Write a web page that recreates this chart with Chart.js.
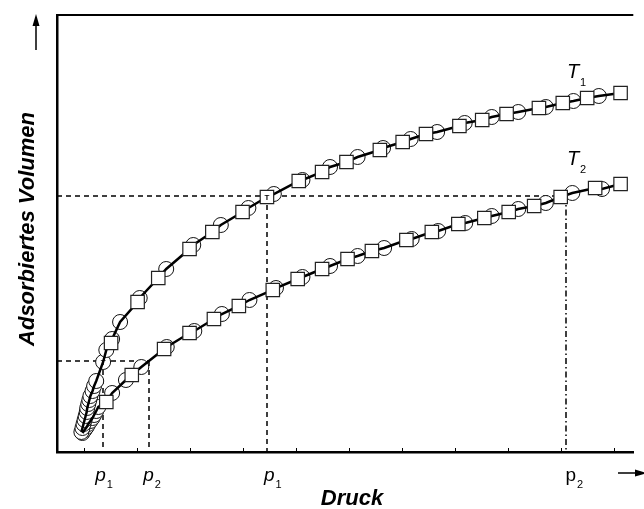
<!DOCTYPE html>
<html lang="de">
<head>
<meta charset="UTF-8">
<title>Adsorptionsisothermen</title>
<style>
  html, body { margin: 0; padding: 0; background: #fff; }
  #wrap { width: 644px; height: 509px; }
</style>
</head>
<body>
<div id="wrap"><canvas id="chart" width="644" height="509"></canvas></div>
<script src="https://cdn.jsdelivr.net/npm/chart.js"></script>
<script>
// Isotherme T1 (obere Kurve)
const t1CircleP = [0.96, 0.98, 1.00, 1.02, 1.04, 1.06, 1.07, 1.09, 1.11, 1.13, 1.17, 1.20, 1.24, 1.37, 1.43, 1.54, 1.69, 2.06, 2.56, 3.07, 3.59, 4.11, 4.59, 5.13, 5.65, 6.17, 6.65, 7.17, 7.67, 8.19, 8.70, 9.20, 9.72, 10.24, 10.72];
const t1CircleV = [2.0, 2.4, 2.8, 3.2, 3.6, 4.0, 4.4, 4.8, 5.2, 5.6, 6.1, 6.6, 7.1, 9.0, 10.2, 11.3, 13.0, 15.4, 18.3, 20.7, 22.7, 24.4, 25.8, 27.2, 28.5, 29.5, 30.4, 31.3, 32.0, 32.9, 33.5, 34.0, 34.5, 35.1, 35.6];
const t1SquareP = [1.52, 2.02, 2.41, 3.00, 3.43, 4.00, 4.46, 5.06, 5.50, 5.96, 6.59, 7.02, 7.46, 8.09, 8.52, 8.98, 9.59, 10.04, 10.50, 11.13];
const t1SquareV = [10.9, 15.0, 17.4, 20.3, 22.0, 24.0, 25.5, 27.1, 28.0, 29.0, 30.2, 31.0, 31.8, 32.6, 33.2, 33.8, 34.4, 34.9, 35.4, 35.9];

// Isotherme T2 (untere Kurve)
const t2CircleP = [0.98, 1.02, 1.06, 1.09, 1.13, 1.17, 1.20, 1.24, 1.28, 1.54, 1.80, 2.09, 2.57, 3.09, 3.61, 4.13, 4.63, 5.13, 5.65, 6.17, 6.67, 7.19, 7.69, 8.20, 8.70, 9.20, 9.72, 10.22, 10.78];
const t2CircleV = [1.9, 2.2, 2.5, 2.8, 3.1, 3.4, 3.7, 4.1, 4.5, 5.9, 7.2, 8.5, 10.5, 12.1, 13.8, 15.2, 16.4, 17.5, 18.6, 19.6, 20.4, 21.3, 22.1, 22.9, 23.6, 24.3, 24.9, 25.9, 26.3];
const t2SquareP = [1.43, 1.91, 2.52, 3.00, 3.46, 3.93, 4.57, 5.04, 5.50, 5.98, 6.44, 7.09, 7.57, 8.07, 8.56, 9.02, 9.50, 10.00, 10.65, 11.13];
const t2SquareV = [5.0, 7.7, 10.3, 11.9, 13.3, 14.6, 16.2, 17.3, 18.3, 19.3, 20.1, 21.2, 22.0, 22.8, 23.4, 24.0, 24.6, 25.5, 26.4, 26.8];

// Achse und Markierungen
const pressureTicks = [1, 2, 3, 4, 5, 6, 7, 8, 9, 10, 11];
const markLabels = ['p', 'p', 'p', 'p'];
const markSubs = ['1', '2', '1', '2'];
const markPressures = [1.37, 2.24, 4.46, 10.11];
const markVolumes = [9.1, 25.6];
const tMarkP = [1.37, 4.46];
const tMarkV = [9.0, 25.5];

const FONT = '"Liberation Sans", Arial, sans-serif';

function pts(xs, ys) {
    return xs.map((x, i) => ({ x: x, y: ys[i] }));
}
function linePts(cx, cy, sx, sy) {
    return pts(cx, cy).concat(pts(sx, sy)).sort((a, b) => a.x - b.x);
}

const decor = {
    id: 'decor',
    beforeDatasetsDraw(chart) {
        const { ctx, chartArea: a, scales: { x, y } } = chart;
        const lowV = Math.round(y.getPixelForValue(markVolumes[0]));
        const highV = Math.round(y.getPixelForValue(markVolumes[1]));
        const px = markPressures.map(v => Math.round(x.getPixelForValue(v)));
        ctx.save();
        ctx.strokeStyle = '#000';
        ctx.lineWidth = 1.5;
        ctx.setLineDash([5, 4]);
        ctx.beginPath();
        ctx.moveTo(a.left, lowV); ctx.lineTo(px[1], lowV);
        ctx.moveTo(a.left, highV); ctx.lineTo(px[3], highV);
        ctx.moveTo(px[0], lowV); ctx.lineTo(px[0], a.bottom);
        ctx.moveTo(px[1], lowV); ctx.lineTo(px[1], a.bottom);
        ctx.moveTo(px[2], highV); ctx.lineTo(px[2], a.bottom);
        ctx.stroke();
        ctx.setLineDash([6, 3, 1.5, 3]);
        ctx.beginPath();
        ctx.moveTo(px[3], highV); ctx.lineTo(px[3], a.bottom);
        ctx.stroke();
        ctx.restore();
    },
    afterDraw(chart) {
        const { ctx, chartArea: a, scales: { x, y } } = chart;
        ctx.save();
        ctx.strokeStyle = '#000';
        ctx.fillStyle = '#000';

        // oberer Rahmen
        ctx.lineWidth = 2;
        ctx.beginPath();
        ctx.moveTo(a.left, a.top);
        ctx.lineTo(a.right, a.top);
        ctx.stroke();

        // kleine Teilstriche nach innen
        ctx.lineWidth = 1;
        ctx.beginPath();
        x.ticks.forEach(t => {
            const tx = Math.round(x.getPixelForValue(t.value)) + 0.5;
            ctx.moveTo(tx, a.bottom);
            ctx.lineTo(tx, a.bottom - 4);
        });
        ctx.stroke();

        // Pfeile
        ctx.lineWidth = 1.5;
        ctx.beginPath();
        ctx.moveTo(36, 50); ctx.lineTo(36, 24);
        ctx.moveTo(618, 473); ctx.lineTo(636, 473);
        ctx.stroke();
        ctx.beginPath();
        ctx.moveTo(36, 14); ctx.lineTo(32.5, 26); ctx.lineTo(39.5, 26); ctx.closePath();
        ctx.fill();
        ctx.beginPath();
        ctx.moveTo(647, 473); ctx.lineTo(635, 469.5); ctx.lineTo(635, 476.5); ctx.closePath();
        ctx.fill();

        // Achsentitel
        ctx.font = 'italic bold 22px ' + FONT;
        ctx.textAlign = 'center';
        ctx.textBaseline = 'alphabetic';
        ctx.fillText('Druck', 352, 505);
        ctx.save();
        ctx.translate(34, 229);
        ctx.rotate(-Math.PI / 2);
        ctx.fillText('Adsorbiertes Volumen', 0, 0);
        ctx.restore();

        // p-Beschriftungen
        const dx = [-8, -6, -3, -1];
        ctx.textAlign = 'left';
        markPressures.forEach((v, i) => {
            const lx = x.getPixelForValue(v) + dx[i];
            ctx.font = (i === 3 ? '' : 'italic ') + '19px ' + FONT;
            ctx.fillText(markLabels[i], lx, 481);
            const w = ctx.measureText(markLabels[i]).width;
            ctx.font = '11px ' + FONT;
            ctx.fillText(markSubs[i], lx + w + 1, 488);
        });

        // Kurvenbeschriftungen
        ctx.font = 'italic 20px ' + FONT;
        ctx.fillText('T', 567, 78);
        ctx.fillText('T', 567, 165);
        ctx.font = '11px ' + FONT;
        ctx.fillText('1', 580, 86);
        ctx.fillText('2', 580, 173);

        // T im Kreis / im Quadrat
        ctx.font = 'bold 8px ' + FONT;
        ctx.textAlign = 'center';
        ctx.textBaseline = 'middle';
        tMarkP.forEach((v, i) => {
            ctx.fillText('T', x.getPixelForValue(v), y.getPixelForValue(tMarkV[i]) + 0.5);
        });
        ctx.restore();
    }
};

const circleStyle = {
    type: 'scatter',
    pointStyle: 'circle',
    pointRadius: 7.5,
    pointBackgroundColor: '#fff',
    pointBorderColor: '#111',
    pointBorderWidth: 1,
    showLine: false,
    order: 2
};
const squareStyle = {
    type: 'scatter',
    pointStyle: 'rect',
    pointRadius: 9.5,
    pointBackgroundColor: '#fff',
    pointBorderColor: '#222',
    pointBorderWidth: 1.2,
    showLine: false,
    order: 0
};
const lineStyle = {
    type: 'line',
    borderColor: '#000',
    borderWidth: 2.5,
    pointRadius: 0,
    fill: false,
    tension: 0,
    order: 1
};

new Chart(document.getElementById('chart'), {
    data: {
        datasets: [
            Object.assign({ label: 'T1 Kreise', data: pts(t1CircleP, t1CircleV) }, circleStyle),
            Object.assign({ label: 'T2 Kreise', data: pts(t2CircleP, t2CircleV) }, circleStyle),
            Object.assign({ label: 'T1', data: linePts(t1CircleP, t1CircleV, t1SquareP, t1SquareV) }, lineStyle),
            Object.assign({ label: 'T2', data: linePts(t2CircleP, t2CircleV, t2SquareP, t2SquareV) }, lineStyle),
            Object.assign({ label: 'T1 Quadrate', data: pts(t1SquareP, t1SquareV) }, squareStyle),
            Object.assign({ label: 'T2 Quadrate', data: pts(t2SquareP, t2SquareV) }, squareStyle)
        ]
    },
    options: {
        responsive: false,
        animation: false,
        events: [],
        layout: { padding: { left: 57, right: 0, top: 15, bottom: 57 } },
        plugins: { legend: { display: false }, tooltip: { enabled: false } },
        elements: { point: { hoverRadius: 0 } },
        datasets: { scatter: { clip: false }, line: { clip: false } },
        scales: {
            x: {
                type: 'linear',
                min: 0.5,
                max: 11.37,
                afterBuildTicks: s => { s.ticks = pressureTicks.map(v => ({ value: v })); },
                ticks: { display: false },
                grid: { display: false, drawTicks: false },
                border: { display: true, color: '#000', width: 2.5 }
            },
            y: {
                type: 'linear',
                min: 0,
                max: 43.7,
                ticks: { display: false },
                grid: { display: false, drawTicks: false },
                border: { display: true, color: '#000', width: 2.5 }
            }
        }
    },
    plugins: [decor]
});
</script>
</body>
</html>
